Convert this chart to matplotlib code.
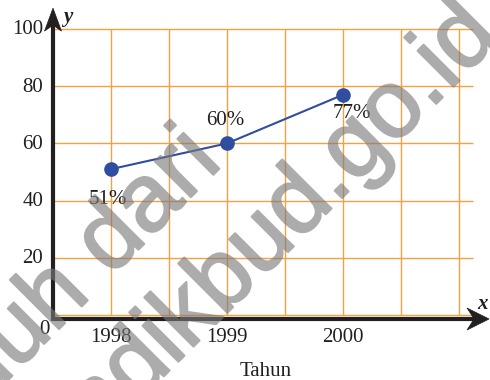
import matplotlib
matplotlib.use("Agg")
import matplotlib.pyplot as plt
import matplotlib.patheffects as pe
from matplotlib.patches import Polygon
from matplotlib import transforms

# data
years = [1998, 1999, 2000]
percent = [51, 60, 77]
point_labels = ["51%", "60%", "77%"]
y_ticks = [0, 20, 40, 60, 80, 100]
x_ticks = [1998, 1999, 2000]
x_title = "Tahun"
watermark_lines = ["Diunduh dari", "bse.kemdikbud.go.id"]

W, H, DPI = 490, 380, 100
fig = plt.figure(figsize=(W / DPI, H / DPI), dpi=DPI)
fig.patch.set_facecolor("white")
ax = fig.add_axes([0, 0, 1, 1])
ax.set_axis_off()
ax.set_xlim(1997.0431, 2001.2672)
ax.set_ylim(-22.73, 110.14)

serif = "Liberation Serif"
grid_c = "#F5A142"
axis_c = "#231F20"
blue = "#2F4EA0"

x0 = 1997.5           # vertical axis position
y_axis = -1.4         # horizontal axis position
grid_x = [1997.5 + 0.5 * k for k in range(1, 8)]
grid_right = 2001.12

# orange grid
ax.hlines(y_ticks, x0, grid_right, color=grid_c, lw=1.0, zorder=1)
ax.vlines(grid_x, 0, 100, color=grid_c, lw=1.0, zorder=1)

# axes with arrow heads
x_tip = 2001.259
y_tip = 107.3
ax.plot([x0, x_tip - 0.12], [y_axis, y_axis], color=axis_c, lw=3.0,
        solid_capstyle="butt", zorder=3)
ax.plot([x0, x0], [y_axis - 0.7, y_tip - 5], color=axis_c, lw=3.0,
        solid_capstyle="butt", zorder=3)

def head(tip, verts):
    px, py = ax.transData.transform(tip)
    tr = transforms.Affine2D().translate(px, py)
    ax.add_patch(Polygon(verts, closed=True, facecolor=axis_c,
                         edgecolor=axis_c, lw=0.5, transform=tr, zorder=4))

head((x0, y_tip), [(0, 0), (-8.5, -23), (0, -17), (8.5, -23)])
head((x_tip, y_axis), [(0, 0), (-22, 11), (-15, 0), (-22, -11)])

ax.text(x0 + 0.13, y_tip - 3.0, "y", fontfamily=serif, fontsize=15,
        fontweight="bold", fontstyle="italic", ha="center", va="center",
        color=axis_c, zorder=5)
ax.text(x_tip - 0.06, 4.0, "x", fontfamily=serif, fontsize=15,
        fontweight="bold", fontstyle="italic", ha="center", va="center",
        color=axis_c, zorder=5)

# tick labels
for v in y_ticks:
    if v == 0:
        ax.text(x0 - 0.07, -5, "0", fontfamily=serif, fontsize=15,
                ha="center", va="center", color=axis_c)
    else:
        ax.text(x0 - 0.085, v - 0.3, str(v), fontfamily=serif, fontsize=15,
                ha="right", va="center", color=axis_c)
for v in x_ticks:
    ax.text(v, -8.0, str(v), fontfamily=serif, fontsize=15,
            ha="center", va="center", color=axis_c)
ax.text(1999.33, -19.6, x_title, fontfamily=serif, fontsize=15,
        ha="center", va="center", color=axis_c)

# series
ax.plot(years, percent, color=blue, lw=1.5, marker="o", markersize=9.5,
        markerfacecolor=blue, markeredgecolor=blue, zorder=6)
offsets = [(-3, -30), (-2, 23), (9, -19)]
for xv, yv, lab, off in zip(years, percent, point_labels, offsets):
    ax.annotate(lab, (xv, yv), xytext=off, textcoords="offset pixels",
                fontfamily=serif, fontsize=15, ha="center", va="center",
                color=axis_c, zorder=7)

# translucent diagonal watermark
def fade(img, dpi):
    out = img.copy()
    out[..., 3] *= 0.62
    return out, 0, 0

wm_color = "#7A7A7A"
wm_pos = [(224, 164), (502, 38)]
for text, (px, py) in zip(watermark_lines, wm_pos):
    t = fig.text(px / W, 1 - py / H, text, fontfamily="Liberation Sans",
                 fontsize=69, rotation=45, rotation_mode="anchor",
                 ha="right", va="baseline", color=wm_color, zorder=10)
    t.set_path_effects([pe.Stroke(linewidth=1.6, foreground=wm_color),
                        pe.Normal()])
    t.set_agg_filter(fade)

fig.savefig("out.png", dpi=DPI)
